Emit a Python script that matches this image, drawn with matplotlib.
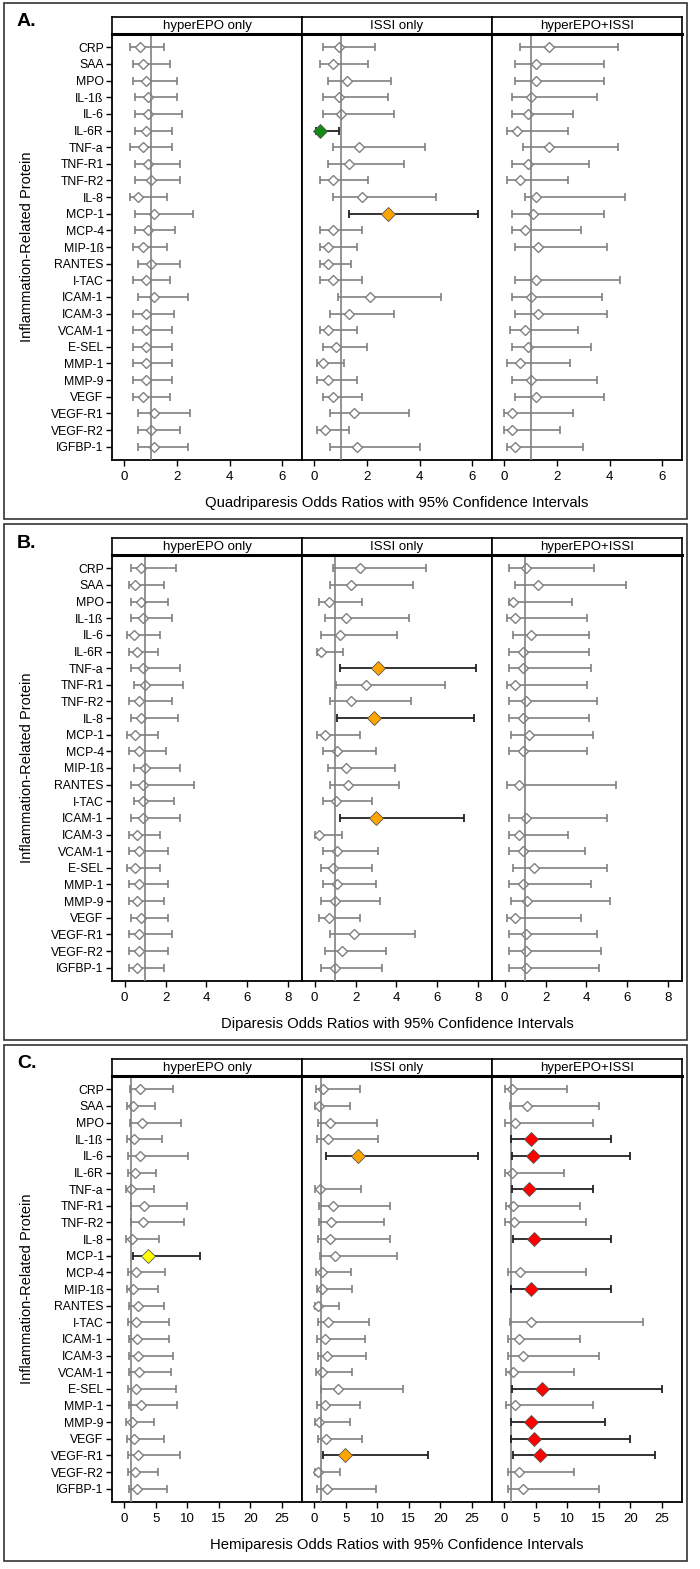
import numpy as np
import matplotlib
matplotlib.use('Agg')
import matplotlib.pyplot as plt
from matplotlib.patches import Rectangle

plt.rcParams['font.family'] = ['Liberation Sans', 'DejaVu Sans']

nan = np.nan

proteins = ['CRP', 'SAA', 'MPO', 'IL-1ß', 'IL-6', 'IL-6R', 'TNF-a', 'TNF-R1', 'TNF-R2',
            'IL-8', 'MCP-1', 'MCP-4', 'MIP-1ß', 'RANTES', 'I-TAC', 'ICAM-1', 'ICAM-3',
            'VCAM-1', 'E-SEL', 'MMP-1', 'MMP-9', 'VEGF', 'VEGF-R1', 'VEGF-R2', 'IGFBP-1']
groups = ['hyperEPO only', 'ISSI only', 'hyperEPO+ISSI']

# A. Quadriparesis
a_epo_or = [0.61, 0.71, 0.81, 0.91, 0.91, 0.81, 0.71, 0.91, 1.02, 0.52, 1.11, 0.91, 0.71,
            1.0, 0.81, 1.11, 0.81, 0.81, 0.81, 0.81, 0.81, 0.71, 1.11, 1.0, 1.11]
a_epo_lo = [0.22, 0.32, 0.32, 0.42, 0.42, 0.42, 0.22, 0.42, 0.42, 0.22, 0.42, 0.42, 0.32,
            0.52, 0.32, 0.52, 0.32, 0.32, 0.32, 0.32, 0.32, 0.32, 0.52, 0.52, 0.52]
a_epo_hi = [1.52, 1.72, 2.01, 2.01, 2.2, 1.81, 1.81, 2.1, 2.1, 1.62, 2.6, 1.91, 1.62,
            2.1, 1.72, 2.4, 1.9, 1.81, 1.81, 1.81, 1.81, 1.72, 2.5, 2.1, 2.4]
a_issi_or = [0.92, 0.71, 1.23, 0.92, 1.01, 0.2, 1.71, 1.3, 0.71, 1.8, 2.81, 0.71, 0.51,
             0.51, 0.71, 2.1, 1.3, 0.51, 0.81, 0.32, 0.51, 0.71, 1.51, 0.41, 1.61]
a_issi_lo = [0.32, 0.22, 0.51, 0.32, 0.32, 0.05, 0.71, 0.51, 0.22, 0.71, 1.3, 0.22, 0.22,
             0.22, 0.22, 0.91, 0.61, 0.22, 0.32, 0.1, 0.1, 0.32, 0.61, 0.1, 0.61]
a_issi_hi = [2.32, 2.03, 2.91, 2.81, 3.01, 0.92, 4.22, 3.42, 2.03, 4.61, 6.2, 1.81, 1.61,
             1.41, 1.81, 4.82, 3.01, 1.61, 2.01, 1.11, 1.61, 1.81, 3.61, 1.3, 4.01]
a_both_or = [1.7, 1.2, 1.2, 1.0, 0.9, 0.49, 1.7, 0.9, 0.59, 1.2, 1.1, 0.8, 1.29,
             nan, 1.2, 1.0, 1.29, 0.8, 0.9, 0.59, 1.0, 1.2, 0.3, 0.3, 0.41]
a_both_lo = [0.59, 0.41, 0.41, 0.3, 0.3, 0.1, 0.7, 0.3, 0.1, 0.8, 0.3, 0.3, 0.41,
             nan, 0.41, 0.3, 0.41, 0.2, 0.3, 0.1, 0.3, 0.41, 0.0, 0.0, 0.1]
a_both_hi = [4.3, 3.8, 3.8, 3.51, 2.61, 2.41, 4.3, 3.2, 2.41, 4.59, 3.8, 2.91, 3.9,
             nan, 4.39, 3.7, 3.9, 2.81, 3.3, 2.51, 3.51, 3.8, 2.61, 2.1, 3.0]
a_marks = [('ISSI only', 'IL-6R', '#138a13'), ('ISSI only', 'MCP-1', '#ffa500')]

# B. Diparesis
b_epo_or = [0.81, 0.5, 0.81, 0.91, 0.44, 0.62, 0.91, 1.01, 0.72, 0.81, 0.5, 0.72, 1.01,
            0.91, 0.91, 0.91, 0.6, 0.72, 0.5, 0.72, 0.6, 0.81, 0.72, 0.72, 0.6]
b_epo_lo = [0.31, 0.2, 0.31, 0.31, 0.13, 0.2, 0.31, 0.44, 0.2, 0.31, 0.13, 0.2, 0.44,
            0.31, 0.44, 0.31, 0.2, 0.2, 0.13, 0.2, 0.2, 0.31, 0.2, 0.2, 0.2]
b_epo_hi = [2.52, 1.92, 2.11, 2.31, 1.71, 1.61, 2.72, 2.86, 2.31, 2.6, 1.61, 2.0, 2.72,
            3.41, 2.41, 2.72, 1.71, 2.11, 1.71, 2.11, 1.92, 2.11, 2.31, 2.11, 1.92]
b_issi_or = [2.2, 1.79, 0.72, 1.53, 1.22, 0.29, 3.12, 2.53, 1.79, 2.92, 0.52, 1.11, 1.53,
             1.63, 1.03, 3.02, 0.21, 1.11, 0.91, 1.11, 1.01, 0.72, 1.91, 1.32, 1.01]
b_issi_lo = [0.91, 0.73, 0.2, 0.52, 0.33, 0.13, 1.22, 1.03, 0.73, 1.11, 0.13, 0.41, 0.64,
             0.73, 0.41, 1.22, 0.0, 0.41, 0.31, 0.41, 0.31, 0.21, 0.73, 0.52, 0.31]
b_issi_hi = [5.42, 4.81, 2.3, 4.6, 4.03, 1.39, 7.9, 6.39, 4.7, 7.78, 2.22, 3.02, 3.92,
             4.11, 2.82, 7.29, 1.32, 3.12, 2.82, 3.02, 3.21, 2.22, 4.91, 3.51, 3.31]
b_both_or = [1.02, 1.61, 0.41, 0.52, 1.31, 0.9, 0.9, 0.52, 1.02, 0.9, 1.21, 0.9, nan,
             0.69, nan, 1.02, 0.69, 0.9, 1.41, 0.9, 1.11, 0.51, 1.02, 1.02, 1.02]
b_both_lo = [0.2, 0.52, 0.2, 0.13, 0.41, 0.2, 0.2, 0.13, 0.2, 0.2, 0.31, 0.2, nan,
             0.1, nan, 0.2, 0.2, 0.2, 0.41, 0.2, 0.31, 0.1, 0.2, 0.2, 0.2]
b_both_hi = [4.39, 5.93, 3.31, 4.02, 4.1, 4.1, 4.23, 4.02, 4.51, 4.1, 4.3, 4.02, nan,
             5.44, nan, 5.02, 3.11, 3.92, 5.02, 4.23, 5.13, 3.72, 4.52, 4.72, 4.6]
b_marks = [('ISSI only', 'TNF-a', '#ffa500'), ('ISSI only', 'IL-8', '#ffa500'),
           ('ISSI only', 'ICAM-1', '#ffa500')]

# C. Hemiparesis
c_epo_or = [2.54, 1.32, 2.8, 1.59, 2.43, 1.69, 1.06, 3.07, 2.91, 1.16, 3.76, 1.8, 1.38,
            2.12, 1.9, 2.0, 2.17, 2.33, 1.9, 2.65, 1.27, 1.59, 2.12, 1.75, 1.96]
c_epo_lo = [0.9, 0.42, 0.9, 0.48, 0.63, 0.58, 0.32, 1.06, 1.06, 0.32, 1.32, 0.58, 0.42,
            0.79, 0.63, 0.69, 0.74, 0.79, 0.63, 0.79, 0.32, 0.48, 0.63, 0.58, 0.69]
c_epo_hi = [7.78, 4.87, 9.0, 5.98, 10.05, 4.97, 4.66, 9.95, 9.47, 5.45, 12.06, 6.4, 5.29,
            6.24, 7.04, 7.04, 7.72, 7.46, 8.2, 8.36, 4.66, 6.24, 8.89, 5.29, 6.77]
c_issi_or = [1.38, 0.74, 2.44, 2.18, 6.85, nan, 0.9, 2.97, 2.71, 2.55, 3.29, 1.27, 1.22,
             0.53, 2.23, 1.65, 2.07, 1.22, 3.82, 1.75, 0.74, 1.8, 4.88, 0.58, 2.07]
c_issi_lo = [0.32, 0.11, 0.58, 0.42, 1.8, nan, 0.16, 0.74, 0.74, 0.58, 0.96, 0.27, 0.37,
             0.05, 0.58, 0.37, 0.58, 0.27, 1.0, 0.42, 0.16, 0.58, 1.38, 0.05, 0.37]
c_issi_hi = [7.17, 5.73, 9.87, 10.03, 26.0, nan, 7.43, 12.05, 11.04, 12.0, 13.06, 5.84, 6.05,
             3.98, 8.65, 8.01, 8.23, 5.94, 14.07, 7.22, 5.73, 7.59, 18.05, 4.09, 9.77]
c_both_or = [1.17, 3.61, 1.7, 4.19, 4.62, 1.22, 3.98, 1.43, 1.54, 4.72, nan, 2.55, 4.3,
             nan, 4.19, 2.39, 2.92, 1.38, 5.94, 1.65, 4.19, 4.67, 5.63, 2.28, 3.03]
c_both_lo = [0.16, 0.96, 0.16, 1.11, 1.17, 0.16, 1.17, 0.21, 0.16, 1.33, nan, 0.58, 1.11,
             nan, 0.96, 0.58, 0.64, 0.21, 1.27, 0.21, 1.11, 1.11, 1.33, 0.58, 0.58]
c_both_hi = [9.98, 14.97, 14.0, 16.98, 20.0, 9.5, 14.0, 12.05, 13.0, 16.98, nan, 13.0, 16.98,
             nan, 21.97, 12.05, 15.02, 10.99, 25.0, 14.0, 15.98, 20.0, 23.99, 10.99, 15.02]
c_marks = [('hyperEPO only', 'MCP-1', '#ffff00'), ('ISSI only', 'IL-6', '#ffa500'),
           ('ISSI only', 'VEGF-R1', '#ffa500')]
for p in ['IL-1ß', 'IL-6', 'TNF-a', 'IL-8', 'MIP-1ß', 'E-SEL', 'MMP-9', 'VEGF', 'VEGF-R1']:
    c_marks.append(('hyperEPO+ISSI', p, '#ff0000'))

panels = [
    ('A.', 'Quadriparesis Odds Ratios with 95% Confidence Intervals',
     [(a_epo_or, a_epo_lo, a_epo_hi), (a_issi_or, a_issi_lo, a_issi_hi), (a_both_or, a_both_lo, a_both_hi)],
     a_marks, [0, 2, 4, 6], (-0.47, 6.75)),
    ('B.', 'Diparesis Odds Ratios with 95% Confidence Intervals',
     [(b_epo_or, b_epo_lo, b_epo_hi), (b_issi_or, b_issi_lo, b_issi_hi), (b_both_or, b_both_lo, b_both_hi)],
     b_marks, [0, 2, 4, 6, 8], (-0.62, 8.67)),
    ('C.', 'Hemiparesis Odds Ratios with 95% Confidence Intervals',
     [(c_epo_or, c_epo_lo, c_epo_hi), (c_issi_or, c_issi_lo, c_issi_hi), (c_both_or, c_both_lo, c_both_hi)],
     c_marks, [0, 5, 10, 15, 20, 25], (-1.96, 28.2)),
]

W, H = 700, 1569
fig = plt.figure(figsize=(W / 100, H / 100), dpi=100)


def box(x, y, w, h):
    # pixel box (from top-left) -> figure fraction
    return [x / W, 1 - (y + h) / H, w / W, h / H]


gray = '#808080'
ypos = np.arange(len(proteins))
offsets = [0, 521, 1042]

for (tag, xlab, data, marks, xt, xl), off in zip(panels, offsets):
    fig.add_artist(Rectangle((4 / W, 1 - (519 + off) / H), 683 / W, 516 / H,
                             transform=fig.transFigure, fill=False,
                             edgecolor='#333333', lw=1.2))
    fig.text(17 / W, 1 - (22 + off) / H, tag, fontsize=14, fontweight='bold',
             va='center', ha='left')
    fig.text(27 / W, 1 - (247 + off) / H, 'Inflammation-Related Protein',
             rotation=90, fontsize=10.5, va='center', ha='center')
    fig.text(397 / W, 1 - (503 + off) / H, xlab, fontsize=10.7, va='center', ha='center')

    for g, (est, lo, hi) in enumerate(data):
        est = np.array(est)
        lo = np.array(lo)
        hi = np.array(hi)
        ax = fig.add_axes(box(112 + 190 * g, 34 + off, 190, 426))
        hx = fig.add_axes(box(112 + 190 * g, 17 + off, 190, 17))

        hot = {p: c for grp, p, c in marks if grp == groups[g]}
        plain = np.array([p not in hot for p in proteins])

        ax.errorbar(est[plain], ypos[plain],
                    xerr=[est[plain] - lo[plain], hi[plain] - est[plain]],
                    fmt='none', ecolor=gray, elinewidth=1.2, capsize=3, capthick=1.2, zorder=2)
        ax.plot(est[plain], ypos[plain], 'D', ms=5, mfc='white', mec=gray, mew=1, zorder=3)
        ax.axvline(1, color=gray, lw=1.2, zorder=4)
        for p, c in hot.items():
            i = proteins.index(p)
            ax.errorbar([est[i]], [i], xerr=[[est[i] - lo[i]], [hi[i] - est[i]]],
                        fmt='none', ecolor='#222222', elinewidth=1.3, capsize=3, capthick=1.3, zorder=5)
            ax.plot([est[i]], [i], 'D', ms=7, mfc=c, mec='#555555', mew=0.6, zorder=6)

        ax.set_xlim(*xl)
        ax.set_ylim(len(proteins) - 0.2, -0.8)
        ax.set_xticks(xt)
        ax.tick_params(axis='x', labelsize=9.5, length=4, width=1, pad=4)
        if g == 0:
            ax.set_yticks(ypos)
            ax.set_yticklabels(proteins)
            ax.tick_params(axis='y', labelsize=8.8, length=4, width=1, pad=2)
        else:
            ax.set_yticks([])
        for s in ax.spines.values():
            s.set_linewidth(1.3)

        hx.set_xticks([])
        hx.set_yticks([])
        hx.text(0.5, 0.45, groups[g], fontsize=9.5, ha='center', va='center',
                transform=hx.transAxes)
        for s in hx.spines.values():
            s.set_linewidth(1.2)
        hx.spines['bottom'].set_linewidth(2.2)

fig.savefig('out.png', dpi=100)
